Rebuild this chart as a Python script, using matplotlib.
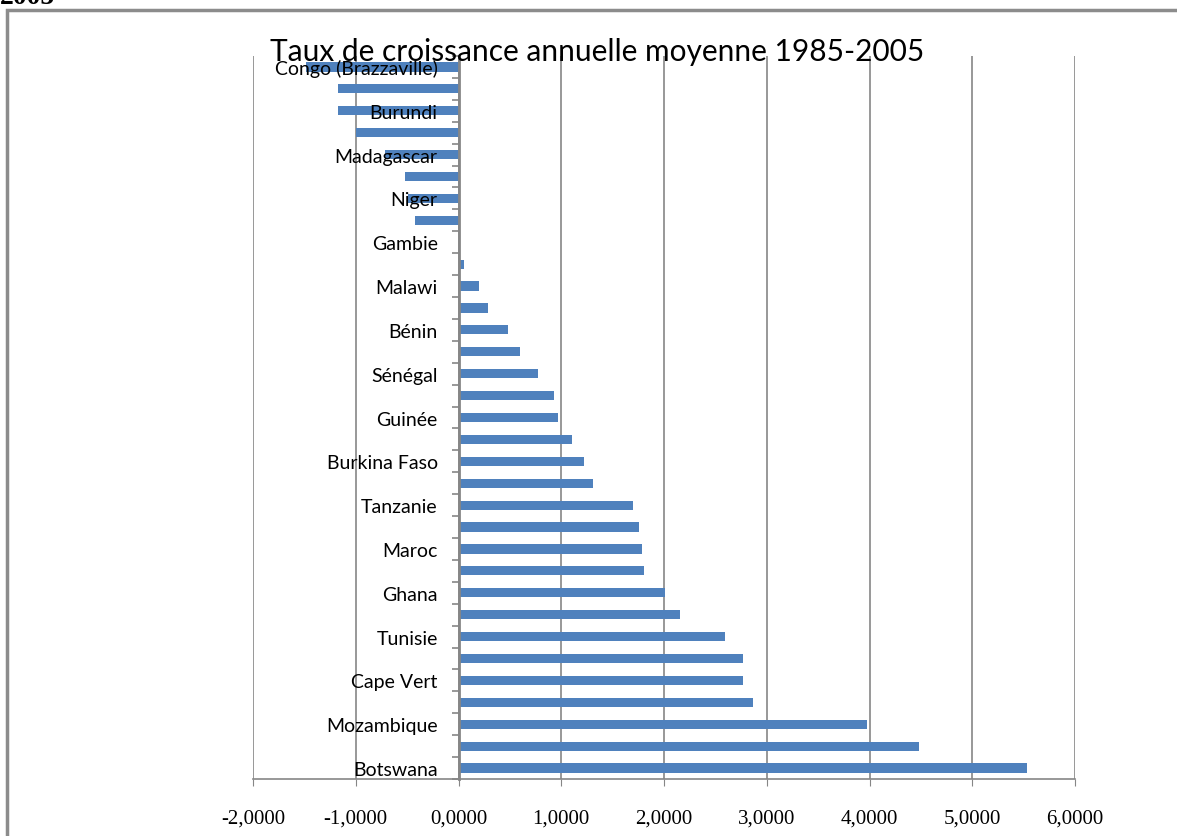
import matplotlib.pyplot as plt
import matplotlib.ticker as mticker
from matplotlib.patches import Rectangle

# categories from top to bottom; Excel only shows every other name
countries = [
    "Congo (Brazzaville)", "", "Burundi", "", "Madagascar", "", "Niger", "",
    "Gambie", "", "Malawi", "", "Bénin", "", "Sénégal", "", "Guinée", "",
    "Burkina Faso", "", "Tanzanie", "", "Maroc", "", "Ghana", "", "Tunisie", "",
    "Cape Vert", "", "Mozambique", "", "Botswana",
]
growth = [
    -1.48, -1.17, -1.17, -1.00, -0.72, -0.52, -0.49, -0.42,
    0.0, 0.05, 0.20, 0.29, 0.48, 0.60, 0.77, 0.93, 0.97, 1.10,
    1.22, 1.31, 1.70, 1.76, 1.79, 1.81, 2.01, 2.16, 2.59, 2.77,
    2.77, 2.87, 3.98, 4.48, 5.53,
]
x_ticks = [-2, -1, 0, 1, 2, 3, 4, 5, 6]

title = "Taux de croissance annuelle moyenne 1985-2005"
bar_color = "#4F81BD"
grey = "#868686"


def main():
    fig = plt.figure(figsize=(11.77, 8.37), dpi=100)
    ax = fig.add_axes([253 / 1177, 1 - 780 / 837, 822 / 1177, 723 / 837])

    pos = list(range(len(countries)))
    ax.barh(pos, growth, height=0.42, color=bar_color, zorder=1)

    # vertical gridlines behind the bars
    for t in x_ticks:
        ax.axvline(t, color=grey, lw=1.2, zorder=0)

    ax.set_xlim(x_ticks[0], x_ticks[-1])
    ax.set_ylim(len(countries) - 0.5, -0.5)

    ax.set_xticks(x_ticks)
    ax.xaxis.set_major_formatter(
        mticker.FuncFormatter(lambda v, p: f"{v:.4f}".replace(".", ","))
    )
    ax.tick_params(axis="x", length=5, color=grey, pad=16, labelsize=15)
    for lbl in ax.get_xticklabels():
        lbl.set_family("Liberation Serif")

    # category axis sits at zero
    ax.spines["left"].set_position(("data", 0))
    labeled = [i for i, c in enumerate(countries) if c]
    ax.set_yticks(labeled)
    ax.set_yticklabels([countries[i] for i in labeled], family="Lato", fontsize=14)
    ax.set_yticks([i - 0.5 for i in range(len(countries) + 1)], minor=True)
    ax.tick_params(axis="y", which="major", length=0, pad=15)
    ax.tick_params(axis="y", which="minor", length=5, color=grey, width=1.2)

    for side in ["top", "right"]:
        ax.spines[side].set_visible(False)
    ax.spines["left"].set_color(grey)
    ax.spines["left"].set_linewidth(2)
    ax.spines["bottom"].set_color(grey)
    ax.spines["bottom"].set_linewidth(1.2)

    fig.text(0.507, 1 - 52 / 837, title, ha="center", va="center",
             family="Lato", fontsize=21.5)

    # frame of the embedded chart and the clipped heading above it
    fig.patches.append(Rectangle((7 / 1177, -0.1), 1.2, 1.1 - 11 / 837,
                                 transform=fig.transFigure, fill=False,
                                 edgecolor="#8c8c8c", lw=2.5))
    fig.text(0.0, 1 - 4 / 837, "2005", ha="left", va="baseline",
             family="Liberation Serif", weight="bold", fontsize=20)

    fig.savefig("out.png", dpi=100)


if __name__ == "__main__":
    main()
